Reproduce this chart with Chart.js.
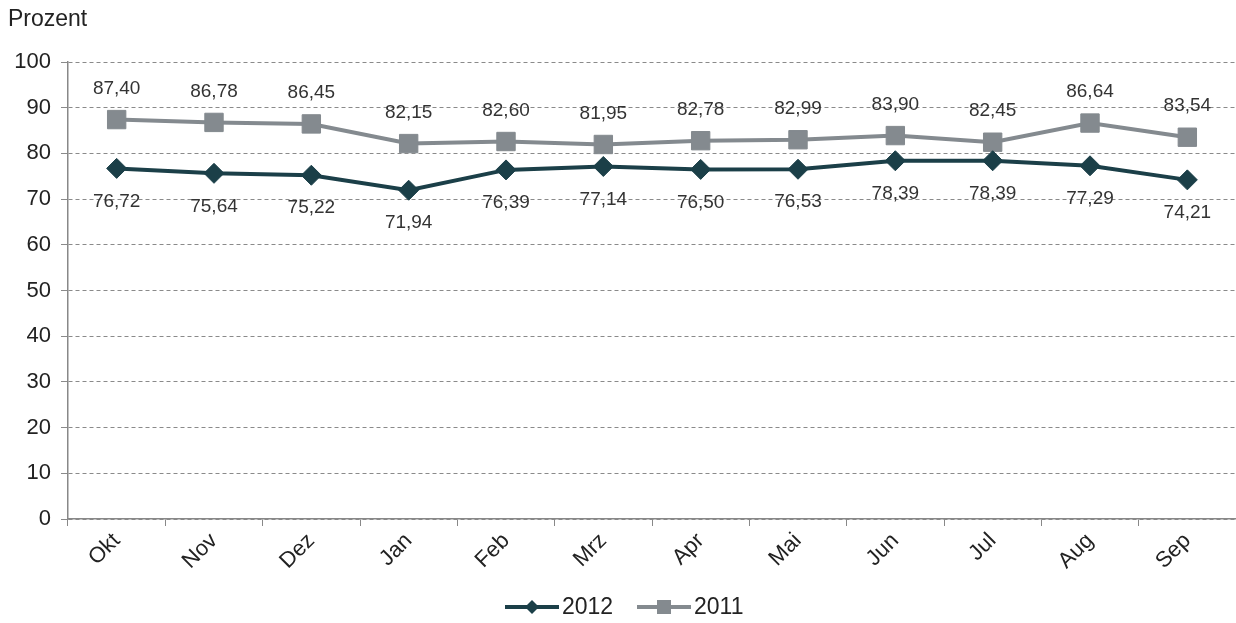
<!DOCTYPE html>
<html>
<head>
<meta charset="utf-8">
<script src="https://cdn.jsdelivr.net/npm/chart.js@4.4.0/dist/chart.umd.min.js"></script>
<style>
  html, body { margin: 0; padding: 0; background: #fff; overflow: hidden; }
  #wrap { width: 1236px; height: 623px; position: relative; }
  canvas { display: block; }
</style>
</head>
<body>
<div id="wrap"><canvas id="line-chart"></canvas></div>
<script>
const months = ["Okt", "Nov", "Dez", "Jan", "Feb", "Mrz", "Apr", "Mai", "Jun", "Jul", "Aug", "Sep"];
const values2012 = [76.72, 75.64, 75.22, 71.94, 76.39, 77.14, 76.50, 76.53, 78.39, 78.39, 77.29, 74.21];
const values2011 = [87.40, 86.78, 86.45, 82.15, 82.60, 81.95, 82.78, 82.99, 83.90, 82.45, 86.64, 83.54];
const yTicks = [0, 10, 20, 30, 40, 50, 60, 70, 80, 90, 100];

const dark = "#1b3f48";
const grey = "#848a8f";
const font = "'Liberation Sans', Arial, sans-serif";

const fmt = v => v.toFixed(2).replace(".", ",");

// value labels: 2011 above the points, 2012 below
const valueLabels = {
    id: "valueLabels",
    afterDatasetsDraw(chart) {
        const ctx = chart.ctx;
        ctx.save();
        ctx.font = "19px " + font;
        ctx.fillStyle = "#333";
        ctx.textAlign = "center";
        ctx.textBaseline = "middle";
        chart.data.datasets.forEach((ds, i) => {
            const meta = chart.getDatasetMeta(i);
            meta.data.forEach((pt, j) => {
                const dy = ds.label === "2011" ? -31 : 33;
                ctx.fillText(fmt(ds.data[j]), pt.x, pt.y + dy);
            });
        });
        ctx.restore();
    }
};

// unit text and legend with line + marker
const extras = {
    id: "extras",
    afterDraw(chart) {
        const ctx = chart.ctx;
        ctx.save();
        ctx.fillStyle = "#222";
        ctx.font = "23px " + font;
        ctx.textBaseline = "middle";
        ctx.textAlign = "left";
        ctx.fillText("Prozent", 8, 20);

        const items = [
            { x: 505, label: "2012", color: dark, shape: "diamond" },
            { x: 637, label: "2011", color: grey, shape: "square" }
        ];
        const y = 607;
        ctx.font = "23px " + font;
        items.forEach(it => {
            ctx.strokeStyle = it.color;
            ctx.fillStyle = it.color;
            ctx.lineWidth = 4;
            ctx.beginPath();
            ctx.moveTo(it.x, y);
            ctx.lineTo(it.x + 54, y);
            ctx.stroke();
            const cx = it.x + 27;
            ctx.beginPath();
            if (it.shape === "diamond") {
                ctx.moveTo(cx - 7, y); ctx.lineTo(cx, y - 7);
                ctx.lineTo(cx + 7, y); ctx.lineTo(cx, y + 7);
            } else {
                ctx.rect(cx - 7, y - 7, 14, 14);
            }
            ctx.closePath();
            ctx.fill();
            ctx.fillStyle = "#222";
            ctx.fillText(it.label, it.x + 57, y + 1);
        });
        ctx.restore();
    }
};

new Chart(document.getElementById("line-chart"), {
    type: "line",
    data: {
        labels: months,
        datasets: [{
            label: "2012",
            data: values2012,
            borderColor: dark,
            backgroundColor: dark,
            borderWidth: 4,
            pointStyle: "rectRot",
            pointRadius: 10,
            pointBorderWidth: 1,
            tension: 0,
            fill: false
        }, {
            label: "2011",
            data: values2011,
            borderColor: grey,
            backgroundColor: grey,
            borderWidth: 4,
            pointStyle: "rect",
            pointRadius: 13,
            pointBorderWidth: 1,
            tension: 0,
            fill: false
        }]
    },
    options: {
        responsive: true,
        maintainAspectRatio: false,
        animation: false,
        layout: { autoPadding: false, padding: { top: 62, left: 0, right: 0, bottom: 0 } },
        plugins: {
            legend: { display: false },
            tooltip: { enabled: false }
        },
        scales: {
            x: {
                offset: true,
                grid: {
                    offset: true,
                    drawOnChartArea: false,
                    drawTicks: true,
                    tickLength: 7,
                    color: "#888"
                },
                border: { color: "#888", width: 1.5 },
                ticks: {
                    color: "#222",
                    font: { family: font, size: 22 },
                    maxRotation: 45,
                    minRotation: 45,
                    padding: 2
                },
                afterFit(scale) {
                    scale.height = 104;
                    scale.paddingLeft = 0;
                    scale.paddingRight = 0;
                }
            },
            y: {
                min: 0,
                max: 100,
                afterBuildTicks(scale) { scale.ticks = yTicks.map(v => ({ value: v })); },
                grid: {
                    color: "#8a8a8a",
                    tickLength: 7,
                    tickBorderDash: [],
                    drawTicks: true
                },
                border: { color: "#888", width: 1.5, dash: [4, 3] },
                ticks: {
                    color: "#222",
                    font: { family: font, size: 22 },
                    padding: 10
                },
                afterFit(scale) {
                    scale.width = 68;
                    scale.paddingTop = 0;
                    scale.paddingBottom = 0;
                }
            }
        }
    },
    plugins: [valueLabels, extras]
});
</script>
</body>
</html>
